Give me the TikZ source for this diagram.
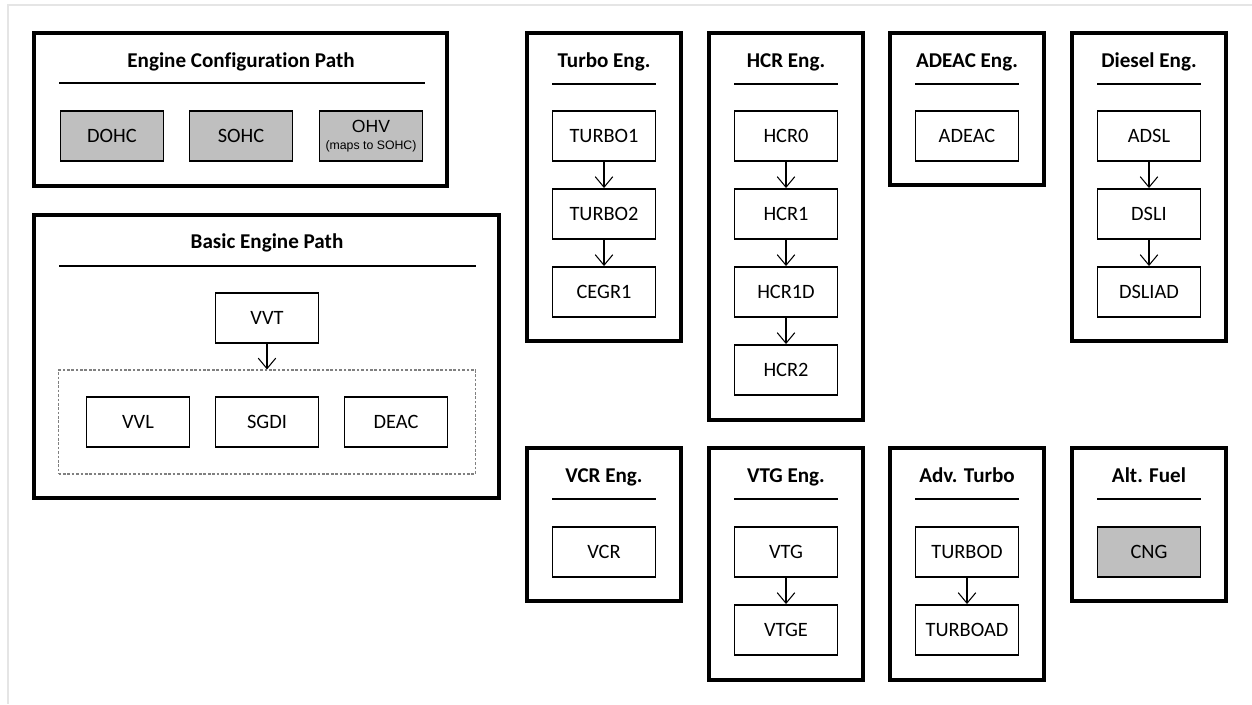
\documentclass[tikz,border=0pt]{standalone}
\usepackage{fontspec}
\setmainfont{Carlito}[Ligatures=NoCommon]
\newfontfamily\arialfont{Liberation Sans}
\usetikzlibrary{arrows.meta}

\tikzstyle{path box}     = [draw,line width=2pt]
\tikzstyle{group title}  = [anchor=base,inner sep=0pt,font=\fontsize{12}{14}\selectfont\bfseries]
\tikzstyle{title rule}   = [line width=1pt]
\tikzstyle{module}       = [draw,line width=1.1pt,minimum width=2.06cm,minimum height=1cm,
                            inner sep=0pt,font=\fontsize{11.6}{13}\selectfont]
\tikzstyle{legacy}       = [module,fill=gray!50]
\tikzstyle{option group} = [draw=gray,dash pattern=on 1.5pt off 1pt,line width=0.6pt,
                            minimum width=8.34cm,minimum height=2.08cm,inner sep=0pt]
\tikzstyle{upgrade}      = [-{Straight Barb[length=6pt,width=10pt]},line width=0.6pt]

\begin{document}
\begin{tikzpicture}[x=0.02cm,y=-0.02cm]
\useasboundingbox (0,0) rectangle (1252,704);
% page edge
\draw[gray!20,line width=1.2pt] (8,704) -- (8,5) -- (1252,5);
% Draw the engine configuration path
\draw[path box] (34,33) rectangle (447,186);
\node[group title] (config) at (241,67) {Engine Configuration Path};
\draw[title rule] (59,83) -- (425,83);
\node[legacy] (dohc) at (112,136) {DOHC};
\node[legacy] (sohc) at (241,136) {SOHC};
\node[legacy,align=center,font=\arialfont\fontsize{10}{11}\selectfont] (ohv) at (371,136)
  {OHV\\[-1pt]{\fontsize{7}{8}\selectfont (maps to SOHC)}};
% Draw the basic engine path
\draw[path box] (34,215) rectangle (499,498);
\node[group title] (basic) at (267,248) {Basic Engine Path};
\draw[title rule] (59,266) -- (476,266);
\node[module] (vvt) at (267,318) {VVT};
\node[option group] (options) at (267,422) {};
\foreach \x/\n/\t in {138/vvl/VVL, 267/sgdi/SGDI, 396/deac/DEAC}
  \node[module] (\n) at (\x,422) {\t};
\draw[upgrade] (vvt) -- (options);
% Draw the engine groups
\foreach \x/\y/\b/\n/\t in {604/33/341/turbo/Turbo Eng., 786/33/420/hcr/HCR Eng.,
                            967/33/185/adeac/ADEAC Eng., 1149/33/341/diesel/Diesel Eng.,
                            604/448/601/vcr/VCR Eng., 786/448/680/vtg/VTG Eng.,
                            967/448/680/advturbo/Adv. Turbo, 1149/448/601/altfuel/Alt. Fuel}
{
  % draw a group frame
  \draw[path box] (\x-77,\y) rectangle (\x+77,\b);
  % draw its title
  \node[group title] (\n) at (\x,\y+34) {\t};
  \draw[title rule] (\x-52,\y+51) -- (\x+52,\y+51);
}
% Draw the modules of each group
\foreach \x/\y/\n/\t in {604/136/turboA/TURBO1, 604/214/turboB/TURBO2, 604/292/cegrA/CEGR1,
                         786/136/hcrO/HCR0, 786/214/hcrA/HCR1, 786/292/hcrAD/HCR1D, 786/370/hcrB/HCR2,
                         967/136/adeacmod/ADEAC,
                         1149/136/adsl/ADSL, 1149/214/dsli/DSLI, 1149/292/dsliad/DSLIAD,
                         604/552/vcrmod/VCR,
                         786/552/vtgmod/VTG, 786/630/vtge/VTGE,
                         967/552/turbod/TURBOD, 967/630/turboad/TURBOAD}
  \node[module] (\n) at (\x,\y) {\t};
\node[legacy] (cng) at (1149,552) {CNG};
% Draw the upgrade arrows
\foreach \a/\b in {turboA/turboB, turboB/cegrA, hcrO/hcrA, hcrA/hcrAD, hcrAD/hcrB,
                   adsl/dsli, dsli/dsliad, vtgmod/vtge, turbod/turboad}
  \draw[upgrade] (\a) -- (\b);
\end{tikzpicture}
\end{document}
